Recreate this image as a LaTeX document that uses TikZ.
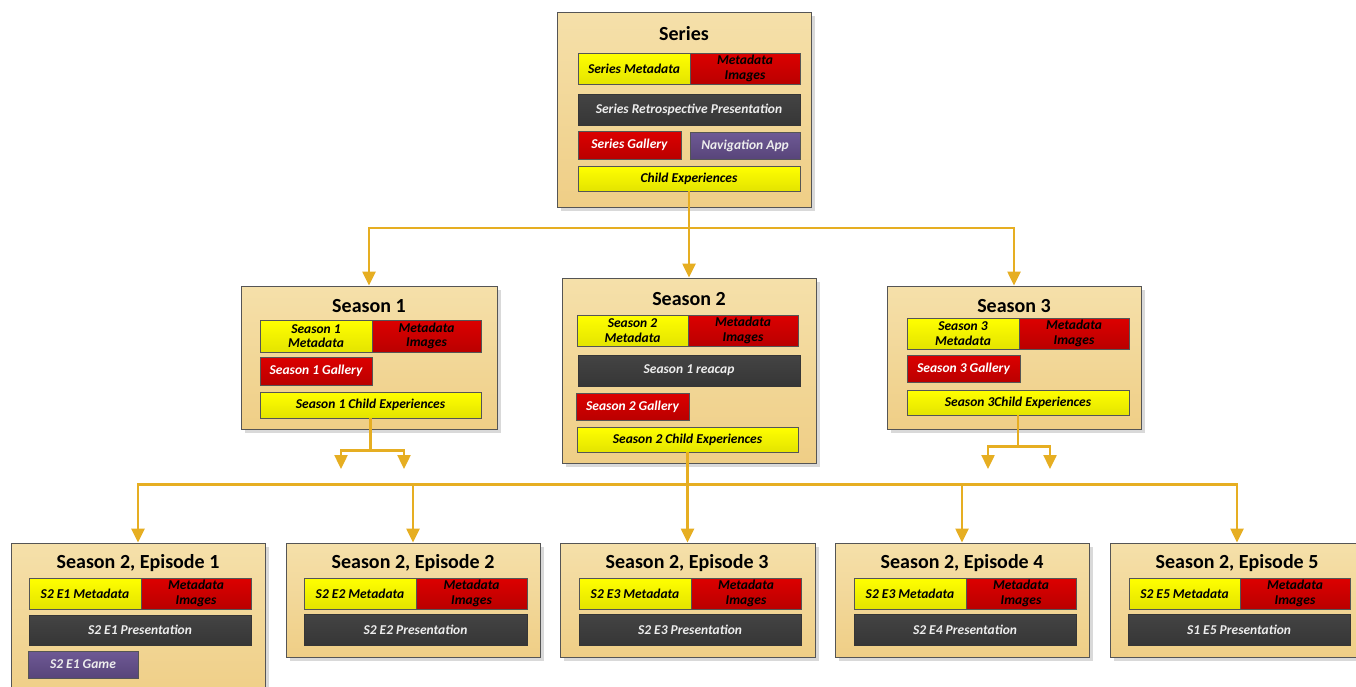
\documentclass[tikz,border=0pt]{standalone}
\usepackage{fontspec}
\setmainfont{Carlito}
\usetikzlibrary{arrows.meta,shadows,calc}
\definecolor{tanT}{HTML}{F5E0AA}
\definecolor{tanB}{HTML}{EFCE86}
\definecolor{ylT}{HTML}{FFFF00}
\definecolor{ylB}{HTML}{E4E400}
\definecolor{rdT}{HTML}{DC0000}
\definecolor{rdB}{HTML}{BA0000}
\definecolor{dkT}{HTML}{444444}
\definecolor{dkB}{HTML}{363636}
\definecolor{puT}{HTML}{6E5995}
\definecolor{puB}{HTML}{58457A}
\definecolor{gold}{HTML}{E6AE22}
\definecolor{edge}{HTML}{555555}
\definecolor{lighttxt}{HTML}{EDEDED}
\newcommand\bx[7]{%
  \pgfmathsetmacro\bxw{#4-#2}\pgfmathsetmacro\bxh{#5-#3}%
  \node[#6, minimum width=\bxw pt, minimum height=\bxh pt] (#1) at ({(#2+#4)/2},{(#3+#5)/2}) {#7};}
\tikzset{
  base/.style={draw=edge, line width=0.8pt, inner sep=0pt, align=center,
    font=\bfseries\itshape\fontsize{13.5}{14.5}\selectfont},
  outer/.style={draw=edge, line width=0.9pt, inner sep=0pt, top color=tanT, bottom color=tanB,
    drop shadow={shadow xshift=4pt, shadow yshift=-4pt, fill=black!15, opacity=1}},
  ttl/.style={inner sep=0pt, font=\bfseries\fontsize{20}{22}\selectfont},
  yel/.style={base, top color=ylT, bottom color=ylB, text=black},
  red/.style={base, top color=rdT, bottom color=rdB, text=black},
  redw/.style={base, top color=rdT, bottom color=rdB, text=white},
  dark/.style={base, top color=dkT, bottom color=dkB, draw=dkB, text=lighttxt},
  purp/.style={base, top color=puT, bottom color=puB, text=lighttxt},
  wire/.style={draw=gold, line width=2.4pt},
  arr/.style={wire, -{Triangle[length=14pt,width=13pt]}},
}
\begin{document}
\begin{tikzpicture}[x=1pt,y=-1pt]
\clip (0,0) rectangle (1356,686);
\fill[white] (0,0) rectangle (1356,686);
% Series
\bx{ser}{557}{12}{811}{207}{outer}{}
\node[ttl] (sert) at (684,34) {Series};
\bx{smd}{578}{53}{690}{84}{yel}{Series Metadata}
\bx{smi}{690}{53}{800}{84}{red}{Metadata\\Images}
\bx{srp}{578}{94}{800}{125}{dark}{Series Retrospective Presentation}
\bx{sgal}{578}{131}{681}{159}{redw}{Series Gallery}
\bx{snav}{690}{132}{800}{159}{purp}{Navigation App}
\bx{sce}{578}{166}{800}{191}{yel}{Child Experiences}
% Season 1
\bx{s1}{241}{286}{497}{429}{outer}{}
\node[ttl] (s1t) at (369,306) {Season 1};
\bx{a1md}{260}{320}{372}{352}{yel}{Season 1\\Metadata}
\bx{a1mi}{372}{320}{481}{352}{red}{Metadata\\Images}
\bx{a1gal}{260}{357}{372}{385}{redw}{Season 1 Gallery}
\bx{a1ce}{260}{392}{481}{418}{yel}{Season 1 Child Experiences}
% Season 2
\bx{s2}{562}{278}{816}{463}{outer}{}
\node[ttl] (s2t) at (689,299) {Season 2};
\bx{a2md}{577}{315}{688}{346}{yel}{Season 2\\Metadata}
\bx{a2mi}{688}{315}{798}{346}{red}{Metadata\\Images}
\bx{a2rc}{578}{355}{800}{386}{dark}{Season 1 reacap}
\bx{a2gal}{576}{393}{689}{420}{redw}{Season 2 Gallery}
\bx{a2ce}{577}{427}{798}{452}{yel}{Season 2 Child Experiences}
% Season 3
\bx{s3}{887}{286}{1141}{429}{outer}{}
\node[ttl] (s3t) at (1014,306) {Season 3};
\bx{a3md}{907}{318}{1019}{349}{yel}{Season 3\\Metadata}
\bx{a3mi}{1019}{318}{1129}{349}{red}{Metadata\\Images}
\bx{a3gal}{907}{355}{1020}{382}{redw}{Season 3 Gallery}
\bx{a3ce}{907}{390}{1129}{415}{yel}{Season 3Child Experiences}
% Episodes
\bx{e1}{11}{543}{265}{700}{outer}{}
\node[ttl] (e1t) at (138,563) {Season 2, Episode 1};
\bx{e1md}{29}{578}{141}{609}{yel}{S2 E1 Metadata}
\bx{e1mi}{141}{578}{251}{609}{red}{Metadata\\Images}
\bx{e1pr}{29}{615}{251}{645}{dark}{S2 E1 Presentation}
\bx{e1gm}{28}{651}{138}{678}{purp}{S2 E1 Game}
\bx{e2}{286}{543}{540}{657}{outer}{}
\node[ttl] (e2t) at (413,563) {Season 2, Episode 2};
\bx{e2md}{304}{578}{416}{609}{yel}{S2 E2 Metadata}
\bx{e2mi}{416}{578}{527}{609}{red}{Metadata\\Images}
\bx{e2pr}{304}{614}{527}{645}{dark}{S2 E2 Presentation}
\bx{e3}{560}{543}{815}{657}{outer}{}
\node[ttl] (e3t) at (687,563) {Season 2, Episode 3};
\bx{e3md}{579}{578}{691}{609}{yel}{S2 E3 Metadata}
\bx{e3mi}{691}{578}{801}{609}{red}{Metadata\\Images}
\bx{e3pr}{579}{614}{801}{645}{dark}{S2 E3 Presentation}
\bx{e4}{835}{543}{1089}{657}{outer}{}
\node[ttl] (e4t) at (962,563) {Season 2, Episode 4};
\bx{e4md}{854}{578}{966}{609}{yel}{S2 E3 Metadata}
\bx{e4mi}{966}{578}{1076}{609}{red}{Metadata\\Images}
\bx{e4pr}{854}{614}{1076}{645}{dark}{S2 E4 Presentation}
\bx{e5}{1110}{543}{1364}{657}{outer}{}
\node[ttl] (e5t) at (1237,563) {Season 2, Episode 5};
\bx{e5md}{1129}{578}{1240}{609}{yel}{S2 E5 Metadata}
\bx{e5mi}{1240}{578}{1350}{609}{red}{Metadata\\Images}
\bx{e5pr}{1128}{614}{1350}{645}{dark}{S1 E5 Presentation}
% connectors
\draw[arr] (sce.south) -- (s2.north);
\coordinate (j0) at (689,228);
\draw[arr] (j0) -| (s1.north);
\draw[arr] (j0) -| (s3.north);
\draw[wire] (a1ce.south) -- ++(0,32) coordinate (j1);
\coordinate (t1a) at (341,469);
\coordinate (t1b) at (404,469);
\draw[arr] (j1) -| (t1a);
\draw[arr] (j1) -| (t1b);
\draw[wire] (a3ce.south) -- ++(0,31) coordinate (j3);
\coordinate (t3a) at (988,469);
\coordinate (t3b) at (1050,469);
\draw[arr] (j3) -| (t3a);
\draw[arr] (j3) -| (t3b);
\draw[wire] (a2ce.south) -- ++(0,32) coordinate (j2);
\draw[arr] (j2) -| (e1.north);
\draw[arr] (j2) -| (e2.north);
\draw[arr] (j2) -- (e3.north);
\draw[arr] (j2) -| (e4.north);
\draw[arr] (j2) -| (e5.north);
\end{tikzpicture}
\end{document}
